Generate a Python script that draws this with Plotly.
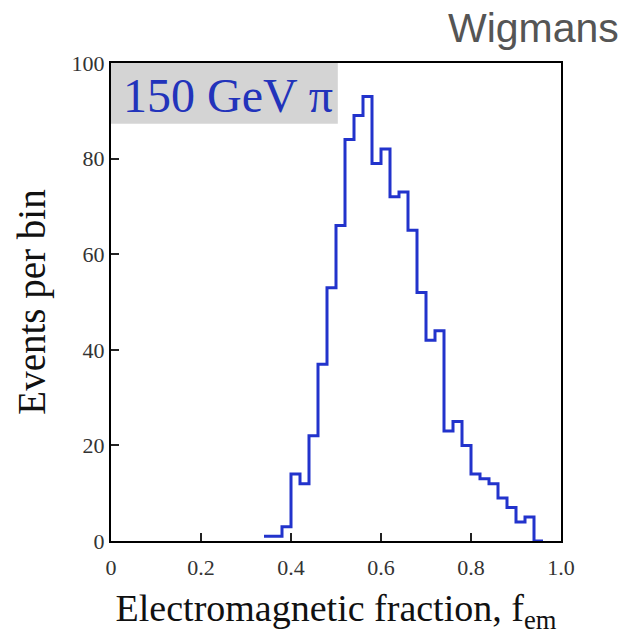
import plotly.graph_objects as go

# Histogram of the electromagnetic fraction for 150 GeV pions (bin width 0.02)
bin_low_edges = [0.34, 0.36, 0.38, 0.40, 0.42, 0.44, 0.46, 0.48, 0.50, 0.52,
                 0.54, 0.56, 0.58, 0.60, 0.62, 0.64, 0.66, 0.68, 0.70, 0.72,
                 0.74, 0.76, 0.78, 0.80, 0.82, 0.84, 0.86, 0.88, 0.90, 0.92,
                 0.94]
bin_width = 0.02
events = [1, 1, 3, 14, 12, 22, 37, 53, 66, 84,
          89, 93, 79, 82, 72, 73, 65, 52, 42, 44,
          23, 25, 20, 14, 13, 12, 9, 7, 4, 5,
          0]

x_ticks = [0, 0.2, 0.4, 0.6, 0.8, 1.0]
x_tick_text = ["0", "0.2", "0.4", "0.6", "0.8", "1.0"]
y_ticks = [0, 20, 40, 60, 80, 100]

# step outline: each bin's level runs from its low edge to the next edge
step_x = bin_low_edges + [bin_low_edges[-1] + bin_width]
step_y = events + [events[-1]]

serif = "Liberation Serif, Times New Roman, serif"

fig = go.Figure()
fig.add_trace(go.Scatter(
    x=step_x, y=step_y, mode="lines", line_shape="hv",
    line=dict(color="#2233cc", width=3), showlegend=False, hoverinfo="skip",
))

fig.update_layout(
    width=634, height=636,
    margin=dict(l=111, r=73, t=63, b=95),
    paper_bgcolor="white", plot_bgcolor="white",
    font=dict(family=serif, color="#222"),
    xaxis=dict(
        range=[0, 1.0], tickvals=x_ticks, ticktext=x_tick_text,
        ticks="inside", ticklen=8, tickwidth=1.5, tickcolor="#222",
        showline=True, linecolor="black", linewidth=2, mirror=True,
        showgrid=False, zeroline=False, ticklabelstandoff=6,
        tickfont=dict(family=serif, size=22, color="#333"),
        title=dict(text="Electromagnetic fraction, f<sub>em</sub>",
                   font=dict(family=serif, size=38, color="#111"), standoff=15),
    ),
    yaxis=dict(
        range=[0, 100], tickvals=y_ticks,
        ticks="inside", ticklen=8, tickwidth=1.5, tickcolor="#222",
        showline=True, linecolor="black", linewidth=2, mirror=True,
        showgrid=False, zeroline=False,
        tickfont=dict(family=serif, size=22, color="#333"),
        title=dict(text="Events per bin",
                   font=dict(family=serif, size=39, color="#111"), standoff=14),
    ),
)

# grey label box in the top-left corner of the plot area
fig.add_shape(type="rect", xref="paper", yref="paper",
              x0=0.0, x1=0.504, y0=0.873, y1=1.0,
              fillcolor="#d4d4d4", line=dict(width=0), layer="below")
fig.add_annotation(text="150 GeV π", xref="paper", yref="paper",
                   x=0.022, y=0.932, xanchor="left", yanchor="middle",
                   showarrow=False,
                   font=dict(family=serif, size=48, color="#2233bb"))

# author tag above the frame
fig.add_annotation(text="Wigmans", xref="paper", yref="paper",
                   x=1.0, y=1.0, xanchor="right", yanchor="top",
                   xshift=73 - 13, yshift=63 - 3, showarrow=False,
                   font=dict(family="Liberation Sans, Arial, sans-serif",
                             size=41, color="#555"))

fig.write_html("out.html")
